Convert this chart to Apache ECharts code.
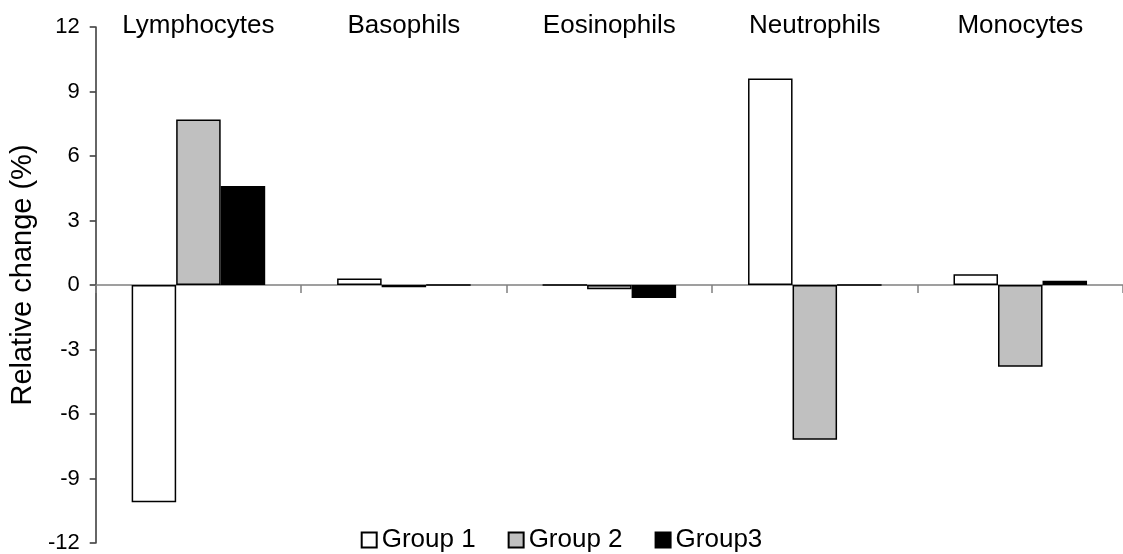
<!DOCTYPE html>
<html>
<head>
<meta charset="utf-8">
<script src="https://cdn.jsdelivr.net/npm/echarts@6/dist/echarts.min.js"></script>
<style>html,body{margin:0;padding:0;background:#fff;}#c{width:1123px;height:554px;}</style>
</head>
<body>
<div id="c"></div>
<script>
const categories = ['Lymphocytes', 'Basophils', 'Eosinophils', 'Neutrophils', 'Monocytes'];
const group1 = [-10.1, 0.3, 0, 9.6, 0.5];
const group2 = [7.7, -0.1, -0.2, -7.2, -3.8];
const group3 = [4.6, 0, -0.6, 0, 0.2];
const seriesNames = ['Group 1', 'Group 2', 'Group3'];
const yTicks = { min: -12, max: 12, interval: 3 };

const font = 'Liberation Sans, Arial, sans-serif';
const chart = echarts.init(document.getElementById('c'), null, { renderer: 'canvas' });
const barStyle = (fill) => ({ color: fill, borderColor: '#000', borderWidth: 1.5 });
chart.setOption({
  animation: false,
  textStyle: { fontFamily: font, color: '#000' },
  grid: { left: 79, top: 27, width: 1052, height: 518 },
  legend: {
    top: 522, left: 'center',
    itemWidth: 15, itemHeight: 15, itemGap: 32,
    textStyle: { fontFamily: font, fontSize: 26, color: '#000' },
    data: seriesNames.map(n => ({ name: n, icon: 'rect' }))
  },
  xAxis: [
    {
      type: 'category', data: categories, position: 'bottom',
      axisLine: { onZero: true, lineStyle: { color: '#808080', width: 1.5 } },
      axisTick: { show: true, length: 8, lineStyle: { color: '#808080', width: 1.5 } },
      axisLabel: { show: false }
    },
    {
      type: 'category', data: categories, position: 'top',
      axisLine: { show: false }, axisTick: { show: false },
      axisLabel: { show: true, margin: 1, verticalAlign: 'middle', fontSize: 26, color: '#000', fontFamily: font }
    }
  ],
  yAxis: {
    type: 'value', min: yTicks.min, max: yTicks.max, interval: yTicks.interval,
    name: 'Relative change (%)', nameLocation: 'middle', nameGap: 54,
    nameTextStyle: { fontSize: 29, color: '#000', fontFamily: font, padding: [0, 0, 0, 20] },
    axisLine: { show: true, lineStyle: { color: '#333', width: 1.5 } },
    axisTick: { show: true, length: 6, lineStyle: { color: '#333', width: 1.5 } },
    axisLabel: { fontSize: 22, color: '#000', margin: 16, fontFamily: font },
    splitLine: { show: false }
  },
  series: [
    { name: seriesNames[0], type: 'bar', data: group1, barGap: '0%', barCategoryGap: '35%', itemStyle: barStyle('#ffffff') },
    { name: seriesNames[1], type: 'bar', data: group2, barGap: '0%', barCategoryGap: '35%', itemStyle: barStyle('#c0c0c0') },
    { name: seriesNames[2], type: 'bar', data: group3, barGap: '0%', barCategoryGap: '35%', itemStyle: barStyle('#000000') }
  ]
});
</script>
</body>
</html>
